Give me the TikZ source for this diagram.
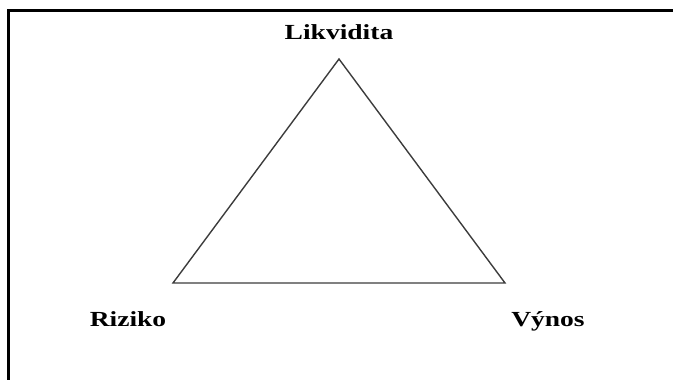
\documentclass[tikz,border=0pt]{standalone}
\usepackage{fontspec}
\setmainfont{Liberation Serif}
\usepackage{tikz}
\usetikzlibrary{positioning}
\definecolor{edgegray}{RGB}{60,60,60}
\newcommand{\widetext}[1]{\scalebox{1.28}[1]{#1}}

\begin{document}
\begin{tikzpicture}[x=1pt,y=1pt,every node/.style={font=\bfseries\fontsize{21.5}{24}\selectfont,inner sep=0pt}]
  \useasboundingbox (0,0) rectangle (673,380);
  % frame (top and left only)
  \draw[line width=2.4pt] (8.5,0) -- (8.5,369.5) -- (673,369.5);
  % corners of the triangle
  \coordinate (top) at (339,321);
  \coordinate (left) at (173,97);
  \coordinate (right) at (505,97);
  \draw[edgegray,line width=1.4pt,line join=miter] (top) -- (right) -- (left) -- cycle;
  % labels
  \node[anchor=base] (liq) at (339,340) {\widetext{Likvidita}};
  \node[anchor=base] (risk) at (128,53) {\widetext{Riziko}};
  \node[anchor=base] (yield) at (548,53) {\widetext{Výnos}};
\end{tikzpicture}
\end{document}
